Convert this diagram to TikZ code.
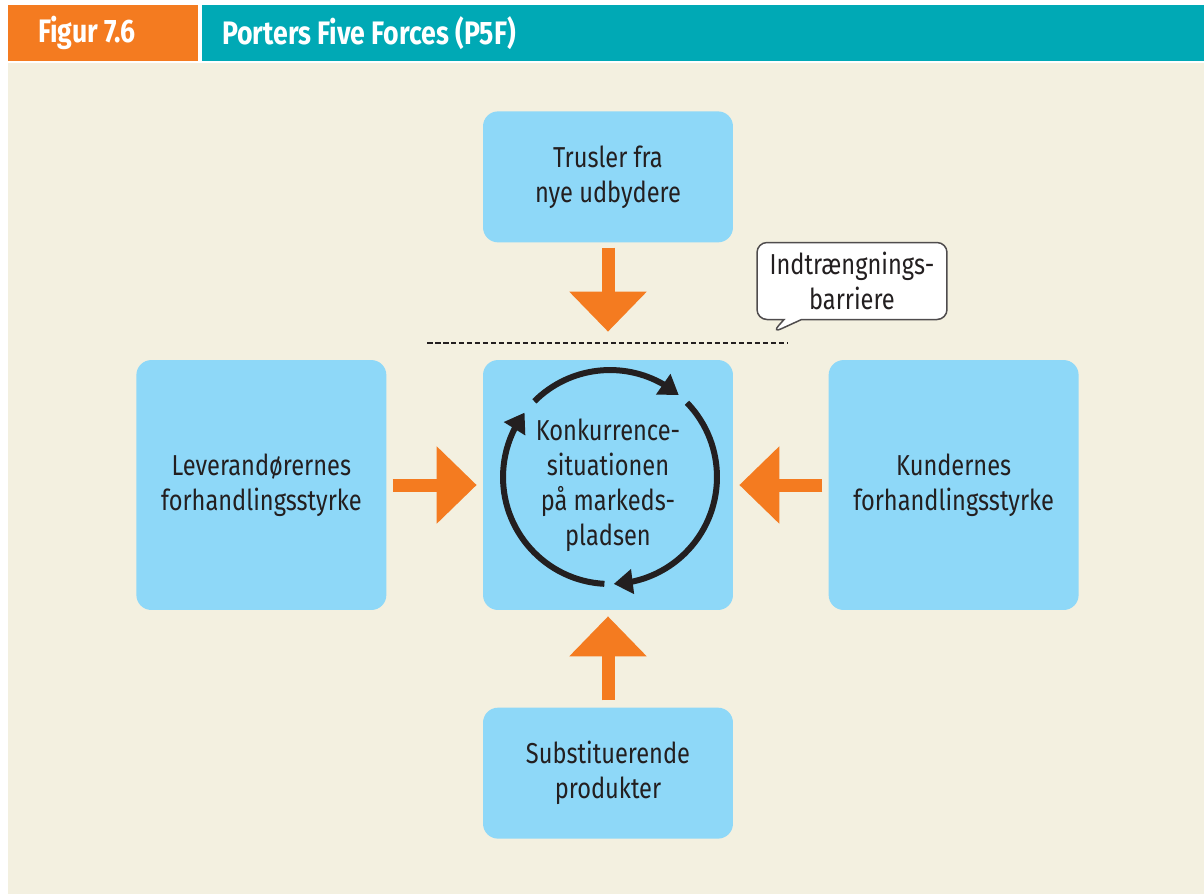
\documentclass[tikz,border=0pt]{standalone}
\usepackage{fontspec}
\setmainfont{Fira Sans}[FakeStretch=0.82]
\usetikzlibrary{positioning}
\usetikzlibrary{arrows.meta}
\usetikzlibrary{bending}
\usetikzlibrary{shapes.callouts}

\definecolor{figorange}{HTML}{F47B20}
\definecolor{figteal}{HTML}{00A9B5}
\definecolor{paper}{HTML}{F3F0E0}
\definecolor{forceblue}{HTML}{8ED8F8}
\definecolor{ink}{HTML}{231F20}

\begin{document}
\begin{tikzpicture}
 [ x=0.02cm, y=-0.02cm
 , every node/.style={text=ink, align=center, font=\fontsize{16.4}{19.9}\selectfont}
 , force/.style={fill=forceblue, rounded corners=0.3cm, minimum width=5cm, minimum height=5cm}
 , flat/.style={minimum height=2.62cm}
 , push/.style={draw=figorange, line width=0.26cm, -{Triangle[length=0.8cm, width=1.5cm]}}
 , turn/.style={draw=ink, line width=0.12cm, -{Triangle[length=0.38cm, width=0.48cm, flex]}}
 , barrier/.style={draw=ink, line width=0.05cm, dash pattern=on 0.11cm off 0.05cm}
 , bubble/.style={rectangle callout, draw=ink!80, fill=white, line width=0.03cm, rounded corners=0.2cm, minimum width=3.8cm, minimum height=1.54cm, callout pointer width=0.35cm}
 , heading/.style={text=white, anchor=west, font=\fontsize{18.5}{22}\selectfont\bfseries}
 ]
  % page and header
  \fill[white] (0,0) rectangle (1204,894);
  \fill[paper] (8,63) rectangle (1204,894);
  \fill[figorange] (8,5) rectangle (198,61);
  \fill[figteal] (202,5) rectangle (1204,61);
  \node[heading] (fignum) at (32,33) {Figur 7.6};
  \node[heading] (figtitle) at (216,33) {Porters Five Forces (P5F)};

  % the five forces
  \node[force] (rivalry) at (608,485) {Konkurrence-\\situationen\\på markeds-\\pladsen};
  \node[force, flat, above=2.34cm of rivalry] (entrants) {Trusler fra\\nye udbydere};
  \node[force, flat, below=1.94cm of rivalry] (substitutes) {Substituerende\\produkter};
  \node[force, left=1.92cm of rivalry] (suppliers) {Leverandørernes\\forhandlingsstyrke};
  \node[force, right=1.9cm of rivalry] (buyers) {Kundernes\\forhandlingsstyrke};

  \draw[push, shorten <=0.1cm, shorten >=0.56cm] (entrants) -- (rivalry);
  \draw[push, shorten <=0.14cm, shorten >=0.12cm] (substitutes) -- (rivalry);
  \draw[push, shorten <=0.12cm, shorten >=0.12cm] (suppliers) -- (rivalry);
  \draw[push, shorten <=0.12cm, shorten >=0.12cm] (buyers) -- (rivalry);

  % entry barrier
  \coordinate (bar west) at (427,343);
  \coordinate (bar east) at (788,343);
  \draw[barrier] (bar west) -- (bar east);
  \node[bubble, callout absolute pointer={(772,333)}] (barrier note) at (852,281) {Indtrængnings-\\barriere};

  % rivalry cycle
  \coordinate (hub) at (610,477);
  \draw[turn] ([shift={(135:2.14cm)}]hub) arc[start angle=135, end angle=50, radius=2.14cm];
  \draw[turn] ([shift={(44:2.14cm)}]hub) arc[start angle=44, end angle=-88, radius=2.14cm];
  \draw[turn] ([shift={(267:2.14cm)}]hub) arc[start angle=267, end angle=143, radius=2.14cm];
\end{tikzpicture}
\end{document}
